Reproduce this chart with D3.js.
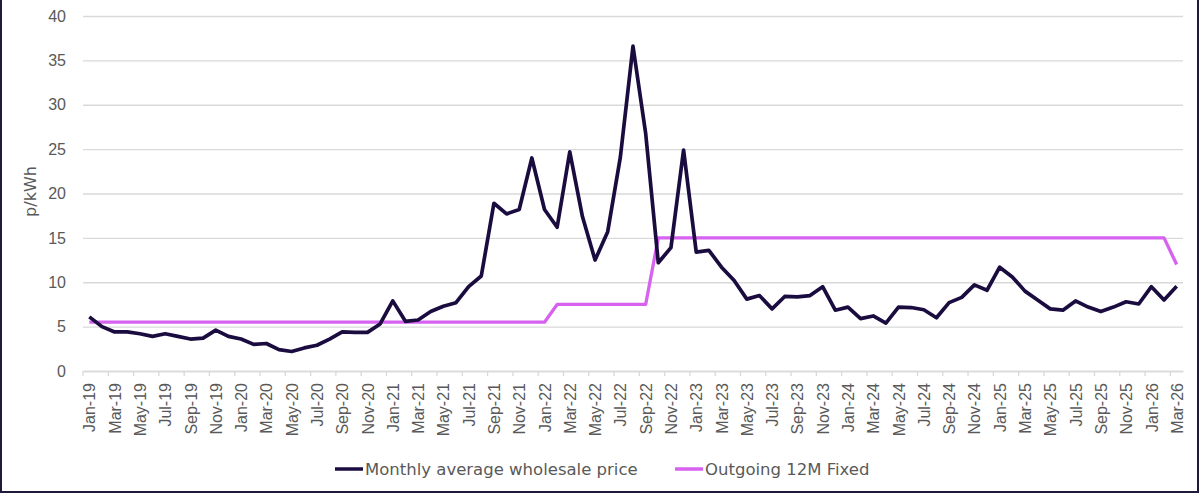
<!DOCTYPE html>
<html>
<head>
<meta charset="utf-8">
<script src="https://cdn.jsdelivr.net/npm/d3@7"></script>
<style>
  body { margin: 0; background: #fff; }
  svg { display: block; font-family: "DejaVu Sans", sans-serif; }
</style>
</head>
<body>
<div id="chart-area"></div>
<script>
// months Jan-19 .. Mar-26
var monthNames = ["Jan", "Feb", "Mar", "Apr", "May", "Jun", "Jul", "Aug", "Sep", "Oct", "Nov", "Dec"];
var months = [];
for (var yr = 19; yr <= 26; yr++) {
    monthNames.forEach(function(m, i) {
        if (yr === 26 && i > 2) return;
        months.push(m + "-" + yr);
    });
}

var wholesale = [
    6.1, 5.0, 4.4, 4.4, 4.2, 3.9, 4.2, 3.9, 3.6, 3.7, 4.6, 3.9,
    3.6, 3.0, 3.1, 2.4, 2.2, 2.6, 2.9, 3.6, 4.4, 4.35, 4.35, 5.3,
    7.9, 5.6, 5.75, 6.7, 7.3, 7.7, 9.5, 10.7, 18.9, 17.7, 18.2, 24.0,
    18.2, 16.2, 24.7, 17.4, 12.5, 15.7, 24.1, 36.6, 26.8, 12.2, 13.9, 24.9,
    13.4, 13.6, 11.7, 10.2, 8.1, 8.5, 7.0, 8.4, 8.35, 8.5, 9.5, 6.85,
    7.2, 5.9, 6.2, 5.4, 7.2, 7.15, 6.9, 6.0, 7.7, 8.3, 9.7, 9.1,
    11.7, 10.6, 9.0, 8.0, 7.0, 6.85, 7.9, 7.2, 6.7, 7.2, 7.8, 7.55,
    9.5, 8.0, 9.55
];

var fixed12m = [
    5.5, 5.5, 5.5, 5.5, 5.5, 5.5, 5.5, 5.5, 5.5, 5.5, 5.5, 5.5,
    5.5, 5.5, 5.5, 5.5, 5.5, 5.5, 5.5, 5.5, 5.5, 5.5, 5.5, 5.5,
    5.5, 5.5, 5.5, 5.5, 5.5, 5.5, 5.5, 5.5, 5.5, 5.5, 5.5, 5.5,
    5.5, 7.5, 7.5, 7.5, 7.5, 7.5, 7.5, 7.5, 7.5, 15, 15, 15,
    15, 15, 15, 15, 15, 15, 15, 15, 15, 15, 15, 15,
    15, 15, 15, 15, 15, 15, 15, 15, 15, 15, 15, 15,
    15, 15, 15, 15, 15, 15, 15, 15, 15, 15, 15, 15,
    15, 15, 12
];

var yTicks = [0, 5, 10, 15, 20, 25, 30, 35, 40];
var seriesNames = ["Monthly average wholesale price", "Outgoing 12M Fixed"];
var colors = ["#1b0c40", "#d662ef"];

var W = 1200, H = 494;
var margin = { left: 83, right: 1183, top: 16, bottom: 371 };

var svg = d3.select("#chart-area")
    .append("svg")
    .attr("width", W)
    .attr("height", H);

var x = d3.scalePoint()
    .domain(months)
    .range([margin.left, margin.right])
    .padding(0.5);

var y = d3.scaleLinear()
    .domain([0, 40])
    .range([margin.bottom, margin.top]);

// gridlines + y labels
var yAxis = d3.axisLeft(y)
    .tickValues(yTicks)
    .tickSize(-(margin.right - margin.left))
    .tickPadding(17);

svg.append("g")
    .attr("class", "y axis")
    .attr("transform", "translate(" + margin.left + ",0)")
    .call(yAxis)
    .call(g => g.select(".domain").remove())
    .call(g => g.selectAll("line").attr("stroke", "#d9d9d9").attr("stroke-width", 1.3))
    .call(g => g.selectAll("text")
        .attr("fill", "#595959")
        .attr("font-size", "16px"));

// x axis
var labelMonths = months.filter((d, i) => i % 2 === 0);
var xAxis = d3.axisBottom(x)
    .tickValues(labelMonths)
    .tickSize(0)
    .tickPadding(0);

var xg = svg.append("g")
    .attr("class", "x axis")
    .attr("transform", "translate(0," + margin.bottom + ")")
    .call(xAxis);

xg.select(".domain")
    .attr("stroke", "#d9d9d9")
    .attr("stroke-width", 1.3);

xg.selectAll("text")
    .attr("fill", "#595959")
    .attr("font-size", "16px")
    .attr("text-anchor", "end")
    .attr("dy", "0.35em")
    .attr("x", -12)
    .attr("y", 0)
    .attr("transform", "rotate(-90)");

// tick marks at category boundaries, every 2 months
xg.selectAll(".bticks")
    .data(labelMonths)
    .enter()
    .append("line")
    .attr("x1", d => x(d) - x.step() / 2)
    .attr("x2", d => x(d) - x.step() / 2)
    .attr("y1", 0)
    .attr("y2", 5)
    .attr("stroke", "#d9d9d9")
    .attr("stroke-width", 1.3);

// y title
svg.append("text")
    .attr("x", -(y(20) - 2))
    .attr("y", 36)
    .attr("text-anchor", "middle")
    .attr("transform", "rotate(-90)")
    .attr("fill", "#595959")
    .attr("font-size", "16px")
    .text("p/kWh");

// lines
var line = d3.line()
    .x((d, i) => x(months[i]))
    .y(d => y(d));

svg.append("path")
    .datum(fixed12m)
    .attr("fill", "none")
    .attr("stroke", colors[1])
    .attr("stroke-width", 3.3)
    .attr("stroke-linejoin", "round")
    .attr("d", line);

svg.append("path")
    .datum(wholesale)
    .attr("fill", "none")
    .attr("stroke", colors[0])
    .attr("stroke-width", 3.7)
    .attr("stroke-linejoin", "round")
    .attr("d", line);

// legend
var legendPos = [335, 675];
var legend = svg.append("g").attr("class", "legend");
seriesNames.forEach(function(name, i) {
    legend.append("line")
        .attr("x1", legendPos[i])
        .attr("x2", legendPos[i] + 28)
        .attr("y1", 469)
        .attr("y2", 469)
        .attr("stroke", colors[i])
        .attr("stroke-width", 3.5);
    legend.append("text")
        .attr("x", legendPos[i] + 30)
        .attr("y", 469)
        .attr("dy", "0.35em")
        .attr("fill", "#595959")
        .attr("font-size", "16.5px")
        .text(name);
});

// frame
svg.append("path")
    .attr("d", "M1,0 V492 H1198 V0")
    .attr("fill", "none")
    .attr("stroke", "#1e1b3c")
    .attr("stroke-width", 2);
</script>
</body>
</html>
